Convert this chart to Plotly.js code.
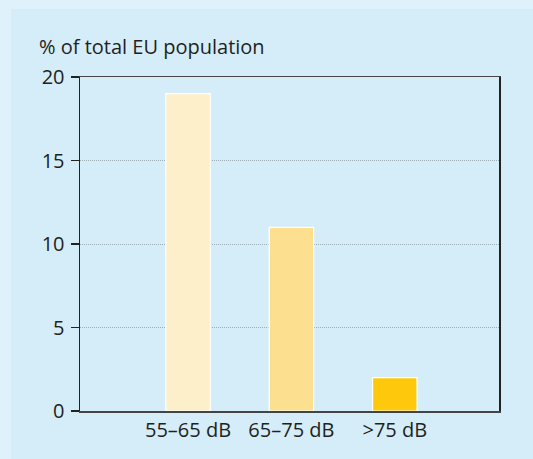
<!DOCTYPE html>
<html>
<head>
<meta charset="utf-8">
<script src="https://cdn.plot.ly/plotly-3.0.1.min.js"></script>
<style>
  html, body { margin: 0; padding: 0; background: #dff2fb; width: 533px; height: 459px; overflow: hidden; }
  #chart { position: absolute; left: 11px; top: 9px; width: 522px; height: 450px; }
</style>
</head>
<body>
<div id="chart"></div>
<script>
const categories = ['55–65 dB', '65–75 dB', '>75 dB'];
const values = [19, 11, 2];
const barColors = ['#fdefc9', '#fde08f', '#fec80d'];
const yTicks = [0, 5, 10, 15, 20];
const yTitle = '% of total EU population';

const trace = {
  type: 'bar',
  x: categories,
  y: values,
  width: 0.43,
  marker: { color: barColors, line: { color: '#ffffff', width: 1.2 } },
  hoverinfo: 'skip'
};

const layout = {
  width: 522,
  height: 450,
  margin: { l: 69, r: 33.5, t: 68, b: 48 },
  paper_bgcolor: '#d5edf9',
  plot_bgcolor: '#d5edf9',
  font: { family: '"Open Sans", sans-serif', size: 20, color: '#231f20' },
  showlegend: false,
  bargap: 0,
  xaxis: {
    type: 'category',
    range: [-1.045, 3.008],
    showgrid: false,
    zeroline: false,
    showline: true,
    linecolor: '#444444',
    linewidth: 1.5,
    mirror: true,
    ticks: '',
    tickfont: { size: 20, color: '#231f20' },
    ticklabelstandoff: 0,
    fixedrange: true
  },
  yaxis: {
    range: [0, 20],
    tickvals: yTicks,
    ticktext: yTicks.map(String),
    showgrid: true,
    gridcolor: '#9fadb4',
    griddash: '1px,1px',
    gridwidth: 1,
    zeroline: false,
    showline: true,
    linecolor: '#222222',
    linewidth: 1.5,
    mirror: true,
    ticks: 'outside',
    ticklen: 8,
    tickwidth: 1.5,
    tickcolor: '#222222',
    tickfont: { size: 20, color: '#231f20' },
    ticklabelstandoff: 2,
    fixedrange: true
  },
  annotations: [{
    text: yTitle,
    xref: 'paper', yref: 'paper',
    x: -0.102, y: 1.09,
    xanchor: 'left', yanchor: 'middle',
    showarrow: false,
    font: { size: 20, color: '#231f20' }
  }]
};

Plotly.newPlot('chart', [trace], layout, { displayModeBar: false, staticPlot: true });
</script>
</body>
</html>
